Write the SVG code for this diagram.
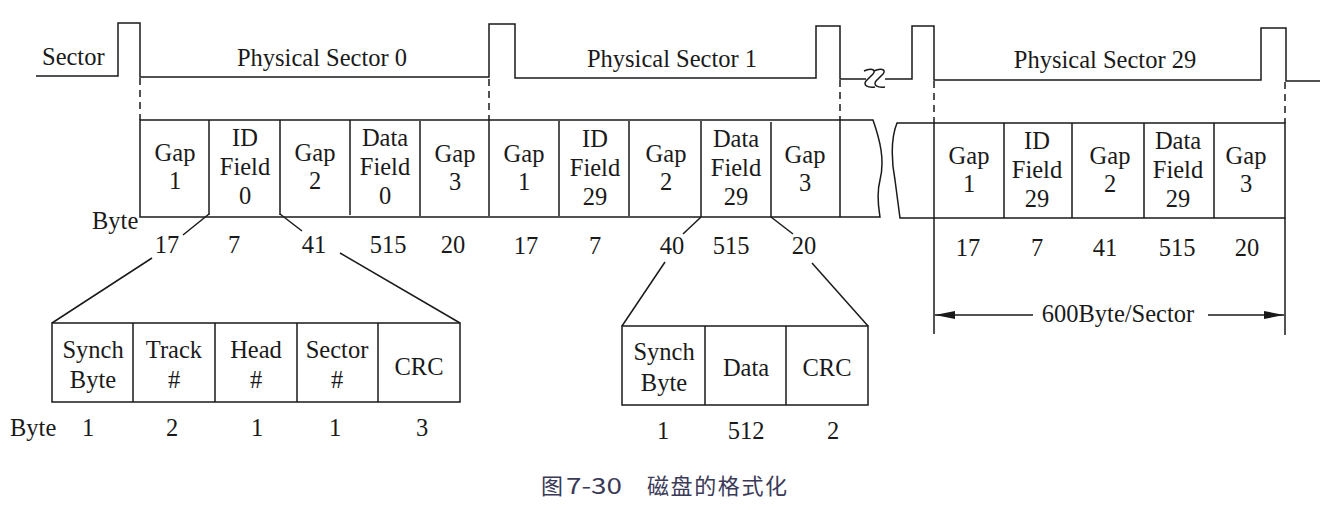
<svg xmlns="http://www.w3.org/2000/svg" width="1337" height="510" viewBox="0 0 1337 510">
<defs>
<style>
.t{font-family:"Liberation Serif","Times New Roman",serif;font-size:24.5px;fill:#1a1a1a;text-anchor:middle}
.ts{font-family:"Liberation Serif","Times New Roman",serif;font-size:24.5px;fill:#1a1a1a;text-anchor:start}
.ln{fill:none;stroke:#1a1a1a;stroke-width:1.5}
.box{fill:#fff;stroke:#1a1a1a;stroke-width:1.5}
.dash{fill:none;stroke:#1a1a1a;stroke-width:1.5;stroke-dasharray:7 5}
.cap{font-family:"Noto Sans CJK SC","Noto Sans",sans-serif;font-size:22px;fill:#3a3a58}
</style>
<marker id="ah" viewBox="0 0 20 8" refX="20" refY="4" markerWidth="20" markerHeight="8" markerUnits="userSpaceOnUse" orient="auto">
<path d="M0,0 L20,4 L0,8 Z" fill="#1a1a1a"/>
</marker>
</defs>
<rect width="1337" height="510" fill="#fff"/>

<g id="connectors">
<!-- waveform -->
<path class="ln" d="M36,76 H118 V23 H140 V77 H489 V24 H515 V78 H816 V26 H840 V79 H866 M885,79 H912 V26 H934 V80 H1261 V28 H1286 V81 H1320"/>
<path class="ln" d="M864,71 C870,68 877,69 873,74 L866,81 C863,85 867,88 875,87 M874,71 C880,68 887,69 883,74 L876,81 C873,85 877,88 885,87" stroke-width="1.4"/>
<!-- dashed guides -->
<line class="dash" x1="140" y1="78" x2="140" y2="120"/>
<line class="dash" x1="489" y1="79" x2="489" y2="121"/>
<line class="dash" x1="840" y1="80" x2="840" y2="122"/>
<line class="dash" x1="934" y1="81" x2="934" y2="123"/>
<line class="dash" x1="1285" y1="82" x2="1285" y2="123"/>
<!-- zoom lines to ID field -->
<line class="ln" x1="209" y1="214" x2="183" y2="235"/>
<line class="ln" x1="280" y1="214" x2="302" y2="231"/>
<line class="ln" x1="152" y1="258" x2="52" y2="323"/>
<line class="ln" x1="340" y1="253" x2="460" y2="323"/>
<!-- zoom lines to data field -->
<line class="ln" x1="701" y1="217" x2="683" y2="234"/>
<line class="ln" x1="771" y1="217" x2="793" y2="234"/>
<line class="ln" x1="665" y1="262" x2="622" y2="326"/>
<line class="ln" x1="812" y1="263" x2="868" y2="326"/>
<!-- 600 byte dimension -->
<line class="ln" x1="934" y1="218" x2="934" y2="334"/>
<line class="ln" x1="1285" y1="218" x2="1285" y2="335"/>
<line class="ln" x1="1033" y1="315" x2="935" y2="315" marker-end="url(#ah)"/>
<line class="ln" x1="1208" y1="315" x2="1284" y2="315" marker-end="url(#ah)"/>
</g>

<g id="labels-wave">
<text class="ts" x="42" y="65">Sector</text>
<text class="t" x="322" y="66">Physical Sector 0</text>
<text class="t" x="672" y="67">Physical Sector 1</text>
<text class="t" x="1105" y="68">Physical Sector 29</text>
</g>

<g id="sector-row-left">
<path class="ln" d="M140,120 H873 C880,140 885,160 880,180 C876,195 879,210 880,217 H140 Z" fill="#fff"/>
<path class="ln" d="M209,120 V215 M280,120 V215 M350,120 V215 M420,121 V216 M489,121 V216 M559,121 V216 M629,121 V216 M701,121 V217 M771,122 V217 M840,122 V217"/>
<text class="t" x="175" y="161">Gap</text><text class="t" x="175" y="189">1</text>
<text class="t" x="245" y="146">ID</text><text class="t" x="245" y="175">Field</text><text class="t" x="245" y="204">0</text>
<text class="t" x="315" y="161">Gap</text><text class="t" x="315" y="189">2</text>
<text class="t" x="385" y="146">Data</text><text class="t" x="385" y="175">Field</text><text class="t" x="385" y="204">0</text>
<text class="t" x="455" y="162">Gap</text><text class="t" x="455" y="190">3</text>
<text class="t" x="524" y="162">Gap</text><text class="t" x="524" y="190">1</text>
<text class="t" x="595" y="147">ID</text><text class="t" x="595" y="176">Field</text><text class="t" x="595" y="205">29</text>
<text class="t" x="666" y="162">Gap</text><text class="t" x="666" y="190">2</text>
<text class="t" x="736" y="147">Data</text><text class="t" x="736" y="176">Field</text><text class="t" x="736" y="205">29</text>
<text class="t" x="805" y="163">Gap</text><text class="t" x="805" y="191">3</text>
<text class="ts" x="92" y="229">Byte</text>
<text class="t" x="167" y="253">17</text>
<text class="t" x="234" y="253">7</text>
<text class="t" x="314" y="253">41</text>
<text class="t" x="388" y="253">515</text>
<text class="t" x="453" y="253">20</text>
<text class="t" x="526" y="254">17</text>
<text class="t" x="595" y="254">7</text>
<text class="t" x="672" y="254">40</text>
<text class="t" x="731" y="254">515</text>
<text class="t" x="804" y="254">20</text>
</g>

<g id="sector-row-right">
<path class="ln" d="M897,123 H1285 V218 H900 C899,210 897,195 895,180 C892,165 890,140 897,123 Z" fill="#fff"/>
<path class="ln" d="M934,123 V218 M1004,123 V218 M1072,123 V218 M1144,123 V218 M1214,123 V218"/>
<text class="t" x="969" y="164">Gap</text><text class="t" x="969" y="192">1</text>
<text class="t" x="1037" y="149">ID</text><text class="t" x="1037" y="178">Field</text><text class="t" x="1037" y="207">29</text>
<text class="t" x="1110" y="164">Gap</text><text class="t" x="1110" y="192">2</text>
<text class="t" x="1178" y="149">Data</text><text class="t" x="1178" y="178">Field</text><text class="t" x="1178" y="207">29</text>
<text class="t" x="1246" y="164">Gap</text><text class="t" x="1246" y="192">3</text>
<text class="t" x="968" y="256">17</text>
<text class="t" x="1037" y="256">7</text>
<text class="t" x="1105" y="256">41</text>
<text class="t" x="1177" y="256">515</text>
<text class="t" x="1247" y="256">20</text>
<text class="t" x="1118" y="322">600Byte/Sector</text>
</g>

<g id="id-field-detail">
<rect class="box" x="52" y="323" width="408" height="79"/>
<path class="ln" d="M133,323 V402 M215,323 V402 M297,323 V402 M378,323 V402"/>
<text class="t" x="93" y="358">Synch</text><text class="t" x="93" y="388">Byte</text>
<text class="t" x="174" y="358">Track</text><text class="t" x="174" y="388">#</text>
<text class="t" x="256" y="358">Head</text><text class="t" x="256" y="388">#</text>
<text class="t" x="337" y="358">Sector</text><text class="t" x="337" y="388">#</text>
<text class="t" x="419" y="375">CRC</text>
<text class="ts" x="10" y="436">Byte</text>
<text class="t" x="88" y="436">1</text>
<text class="t" x="172" y="436">2</text>
<text class="t" x="257" y="436">1</text>
<text class="t" x="335" y="436">1</text>
<text class="t" x="422" y="436">3</text>
</g>

<g id="data-field-detail">
<rect class="box" x="622" y="326" width="246" height="79"/>
<path class="ln" d="M705,326 V405 M786,326 V405"/>
<text class="t" x="664" y="360">Synch</text><text class="t" x="664" y="391">Byte</text>
<text class="t" x="746" y="376">Data</text>
<text class="t" x="827" y="376">CRC</text>
<text class="t" x="663" y="439">1</text>
<text class="t" x="746" y="439">512</text>
<text class="t" x="833" y="439">2</text>
</g>

<g id="caption">
<text class="cap" x="541" y="494">图</text>
<text class="cap" x="566" y="494" textLength="56" lengthAdjust="spacingAndGlyphs">7-30</text>
<text class="cap" x="647" y="494" textLength="140" lengthAdjust="spacing">磁盘的格式化</text>
</g>
</svg>
